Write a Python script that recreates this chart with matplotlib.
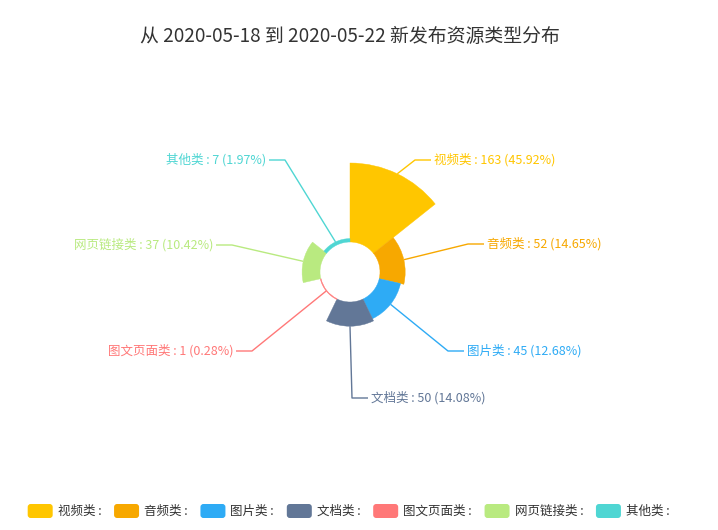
import matplotlib
matplotlib.use("Agg")
import matplotlib.pyplot as plt
from matplotlib.patches import Wedge, FancyBboxPatch
import numpy as np

plt.rcParams['font.family'] = ['Noto Sans CJK SC', 'DejaVu Sans']

# ---- data ----
categories = ['视频类', '音频类', '图片类', '文档类', '图文页面类', '网页链接类', '其他类']
values = [163, 52, 45, 50, 1, 37, 7]
title = '从 2020-05-18 到 2020-05-22 新发布资源类型分布'

# ---- styles / layout ----
colors = ['#ffc600', '#f7a800', '#2eabf5', '#627797', '#ff7878', '#b9ea80', '#4fd6d3']
W, H = 718, 530
cx, cy_px = 350, 272
r0, R = 30, 109
# label elbow points (pixel coords) and side
elbows = [(415, 160), (468, 244), (448, 351), (352, 398), (252, 351), (232, 245), (285, 160)]
sides = [1, 1, 1, 1, -1, -1, -1]
len2 = 16

def Y(py):
    return H - py

fig = plt.figure(figsize=(W / 100, H / 100), dpi=100)
ax = fig.add_axes([0, 0, 1, 1])
ax.set_xlim(0, W)
ax.set_ylim(0, H)
ax.axis('off')

cy = Y(cy_px)
n = len(values)
step = 360.0 / n
vmax = max(values)
total = sum(values)

for i, (cat, v, col) in enumerate(zip(categories, values, colors)):
    r = r0 + (R - r0) * v / vmax
    t2 = 90 - i * step
    t1 = 90 - (i + 1) * step
    ax.add_patch(Wedge((cx, cy), r, t1, t2, width=max(r - r0, 0.8), facecolor=col,
                       edgecolor=col, linewidth=0.3))
    mid = np.deg2rad((t1 + t2) / 2)
    sx, sy = cx + r * np.cos(mid), cy + r * np.sin(mid)
    ex, ey = elbows[i][0], Y(elbows[i][1])
    s = sides[i]
    hx = ex + s * len2
    ax.plot([sx, ex, hx], [sy, ey, ey], color=col, linewidth=1, solid_capstyle='butt')
    pct = v / total * 100
    ax.text(hx + s * 3, ey, f'{cat} : {v} ({pct:.2f}%)', color=col, fontsize=9,
            ha='left' if s > 0 else 'right', va='center')

ax.text(350, Y(36), title, fontsize=13.6, color='#333333', ha='center', va='center')

# legend
renderer = fig.canvas.get_renderer()
bw, bh, gap, igap = 25, 14, 5, 10
ly = Y(511)
texts = []
widths = []
for cat in categories:
    t = ax.text(0, ly, f'{cat} : ', fontsize=9, color='#333333', ha='left', va='center')
    bb = t.get_window_extent(renderer=renderer)
    texts.append(t)
    widths.append(bb.width)
totw = sum(bw + gap + w for w in widths) + igap * (n - 1)
x = 350 - totw / 2
for t, w, col in zip(texts, widths, colors):
    ax.add_patch(FancyBboxPatch((x, ly - bh / 2), bw, bh,
                                boxstyle='round,pad=0,rounding_size=3',
                                facecolor=col, edgecolor='none'))
    t.set_x(x + bw + gap)
    x += bw + gap + w + igap

fig.savefig('out.png', dpi=100)
